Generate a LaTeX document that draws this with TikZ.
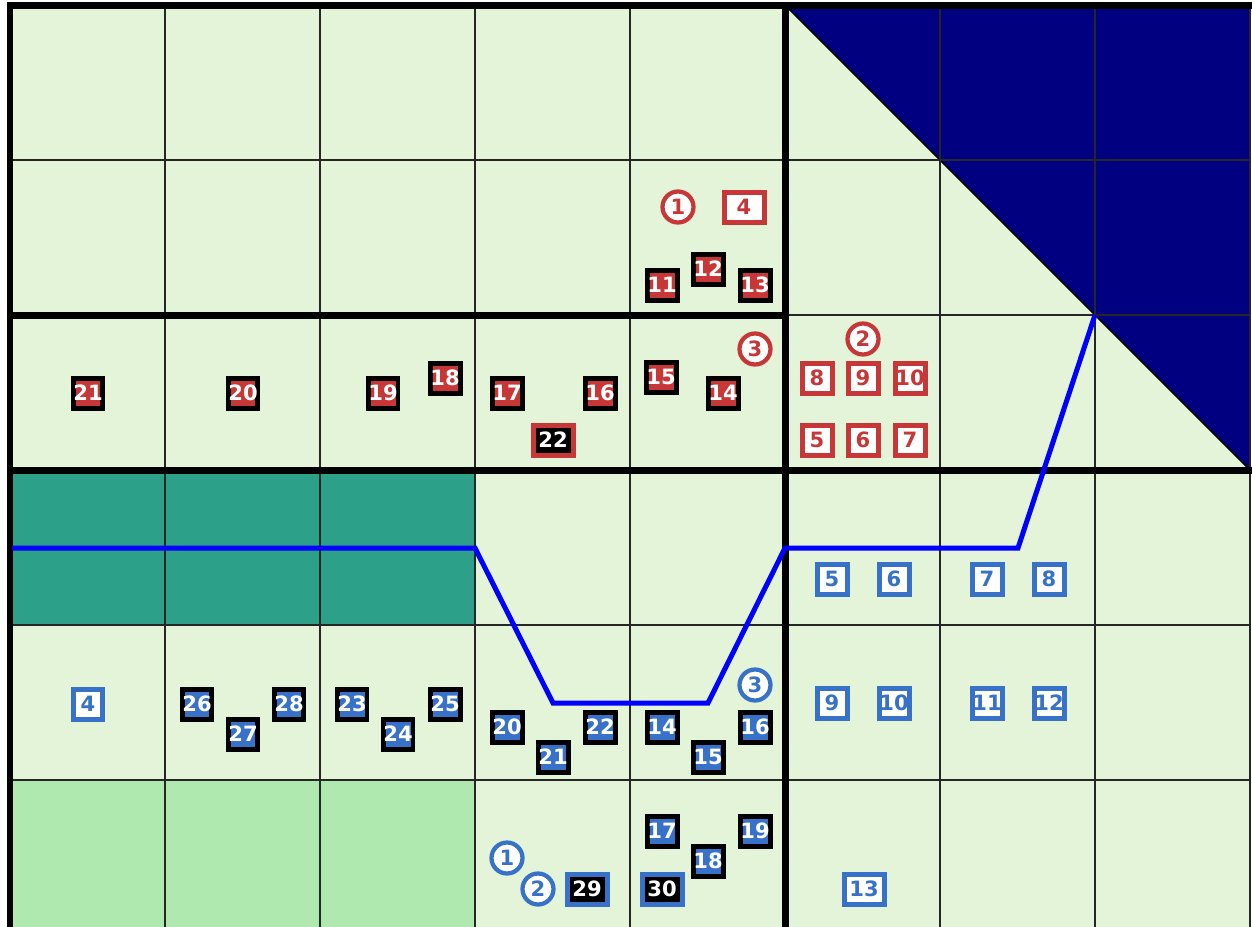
\documentclass[tikz,border=0pt]{standalone}
\usepackage{fontspec}
\setmainfont{DejaVu Sans}
\usetikzlibrary{positioning}

\definecolor{cellgreen}{RGB}{227,244,216}
\definecolor{zoneteal}{RGB}{44,160,137}
\definecolor{zonegreen}{RGB}{175,233,175}
\definecolor{navyblue}{RGB}{0,0,128}
\definecolor{mred}{RGB}{200,55,55}
\definecolor{mblue}{RGB}{55,113,200}

\begin{document}
\begin{tikzpicture}[
                x=0.02cm, y=-0.02cm,
                font=\fontsize{12}{14}\selectfont\bfseries,
                tile/.style={rectangle, minimum size=0.6cm, inner sep=0pt, line width=0.1cm},
                wide/.style={minimum width=0.8cm},
                redfull/.style={tile, draw=black, fill=mred, text=white},
                redopen/.style={tile, draw=mred, fill=white, text=mred},
                redinv/.style={tile, wide, draw=mred, fill=black, text=white},
                redring/.style={circle, draw=mred, fill=white, text=mred, line width=0.085cm, minimum size=0.62cm, inner sep=0pt},
                bluefull/.style={tile, draw=black, fill=mblue, text=white},
                blueopen/.style={tile, draw=mblue, fill=white, text=mblue},
                blueinv/.style={tile, wide, draw=mblue, fill=black, text=white},
                bluering/.style={circle, draw=mblue, fill=white, text=mblue, line width=0.085cm, minimum size=0.62cm, inner sep=0pt},
                gridline/.style={line width=0.03cm, black!85},
                wall/.style={line width=0.14cm, black, line cap=rect},
                route/.style={line width=0.1cm, blue, line join=miter},
            ]
            \useasboundingbox (0,0) rectangle (1252,927);

            % ground and zones
            \fill[cellgreen] (10,5) rectangle (1250,935);
            \fill[zoneteal] (10,470) rectangle (475,625);
            \fill[zonegreen] (10,780) rectangle (475,935);
            \filldraw[fill=navyblue, draw=black, line width=0.03cm] (785,5) -- (1250,5) -- (1250,470) -- cycle;

            % grid
            \foreach \x in {165,320,...,1250}
                \draw[gridline] (\x,5) -- (\x,935);
            \foreach \y in {160,315,...,935}
                \draw[gridline] (10,\y) -- (1250,\y);

            % walls
            \draw[wall] (10,935) -- (10,5) -- (1250,5);
            \draw[wall] (785,5) -- (785,935);
            \draw[wall] (10,315) -- (785,315);
            \draw[wall] (10,470) -- (1250,470);

            % route
            \draw[route] (12,548) -- (475,548) -- (553,703) -- (708,703) -- (785,548) -- (1018,548) -- (1095,315);

            % red group
            \node[redring] (rc1) at (678,207) {1};
            \node[redring] (rc2) at (863,339) {2};
            \node[redring] (rc3) at (755,349) {3};
            \node[redopen, wide] (r4) at (744,207) {4};
            \node[redopen] (r5) at (817,440) {5};
            \node[redopen] (r6) at (863,440) {6};
            \node[redopen] (r7) at (910,440) {7};
            \node[redopen] (r8) at (817,378) {8};
            \node[redopen] (r9) at (863,378) {9};
            \node[redopen] (r10) at (910,378) {10};
            \node[redfull] (r11) at (662,285) {11};
            \node[redfull] (r12) at (708,269) {12};
            \node[redfull] (r13) at (755,285) {13};
            \node[redfull] (r14) at (723,393) {14};
            \node[redfull] (r15) at (661,377) {15};
            \node[redfull] (r16) at (600,393) {16};
            \node[redfull] (r17) at (507,393) {17};
            \node[redfull] (r18) at (445,378) {18};
            \node[redfull] (r19) at (383,393) {19};
            \node[redfull] (r20) at (243,393) {20};
            \node[redfull] (r21) at (88,393) {21};
            \node[redinv] (r22) at (553,440) {22};

            % blue group
            \node[bluering] (bc1) at (507,858) {1};
            \node[bluering] (bc2) at (538,889) {2};
            \node[bluering] (bc3) at (755,685) {3};
            \node[blueopen] (b4) at (88,704) {4};
            \node[blueopen] (b5) at (832,579) {5};
            \node[blueopen] (b6) at (894,579) {6};
            \node[blueopen] (b7) at (987,579) {7};
            \node[blueopen] (b8) at (1049,579) {8};
            \node[blueopen] (b9) at (832,703) {9};
            \node[blueopen] (b10) at (894,703) {10};
            \node[blueopen] (b11) at (987,703) {11};
            \node[blueopen] (b12) at (1049,703) {12};
            \node[blueopen, wide] (b13) at (864,889) {13};
            \node[bluefull] (b14) at (662,727) {14};
            \node[bluefull] (b15) at (708,757) {15};
            \node[bluefull] (b16) at (755,727) {16};
            \node[bluefull] (b17) at (662,831) {17};
            \node[bluefull] (b18) at (708,861) {18};
            \node[bluefull] (b19) at (755,831) {19};
            \node[bluefull] (b20) at (507,727) {20};
            \node[bluefull] (b21) at (553,757) {21};
            \node[bluefull] (b22) at (600,727) {22};
            \node[bluefull] (b23) at (352,704) {23};
            \node[bluefull] (b24) at (398,734) {24};
            \node[bluefull] (b25) at (445,704) {25};
            \node[bluefull] (b26) at (197,704) {26};
            \node[bluefull] (b27) at (243,734) {27};
            \node[bluefull] (b28) at (289,704) {28};
            \node[blueinv] (b29) at (587,889) {29};
            \node[blueinv] (b30) at (662,889) {30};
        \end{tikzpicture}
\end{document}
